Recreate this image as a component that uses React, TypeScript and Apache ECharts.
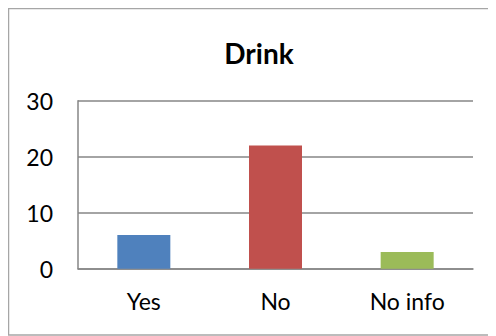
import React, { useEffect, useRef } from "react";
import * as echarts from "echarts";

const categories = ["Yes", "No", "No info"];
const values = [6, 22, 3];
const barColors = ["#4F81BD", "#C0504D", "#9BBB59"];
const yTicks = { min: 0, max: 30, interval: 10 };
const title = "Drink";

export default function App() {
  const ref = useRef<HTMLDivElement>(null);
  useEffect(() => {
    if (!ref.current) return;
    const chart = echarts.init(ref.current, null, { renderer: "svg" });
    const font = "Lato, 'Open Sans', sans-serif";
    chart.setOption({
      animation: false,
      backgroundColor: "#ffffff",
      title: {
        text: title,
        left: 246,
        top: 26,
        textAlign: "center",
        textStyle: { fontFamily: font, fontWeight: "bold", fontSize: 28, color: "#000" },
      },
      graphic: [
        {
          type: "rect",
          shape: { x: 0.5, y: 0.5, width: 700, height: 326.5 },
          style: { fill: "none", stroke: "#a6a6a6", lineWidth: 1.5 },
          silent: true,
        },
      ],
      grid: { left: 70, top: 92.7, right: 23, bottom: 67.3 },
      xAxis: {
        type: "category",
        data: categories,
        axisLine: { show: true, lineStyle: { color: "#868686", width: 1.5 } },
        axisTick: { show: false },
        axisLabel: { fontFamily: font, fontSize: 23, color: "#000", margin: 21 },
      },
      yAxis: {
        type: "value",
        min: yTicks.min,
        max: yTicks.max,
        interval: yTicks.interval,
        axisLine: { show: true, lineStyle: { color: "#868686", width: 1.5 } },
        axisTick: { show: false },
        axisLabel: { fontFamily: font, fontSize: 23, color: "#000", margin: 25 },
        splitLine: { show: true, lineStyle: { color: "#868686", width: 1.5 } },
      },
      series: [
        {
          type: "bar",
          barWidth: 53,
          data: values.map((v, i) => ({ value: v, itemStyle: { color: barColors[i] } })),
        },
      ],
    });
    return () => chart.dispose();
  }, []);
  return <div ref={ref} style={{ width: 488, height: 328 }} />;
}
